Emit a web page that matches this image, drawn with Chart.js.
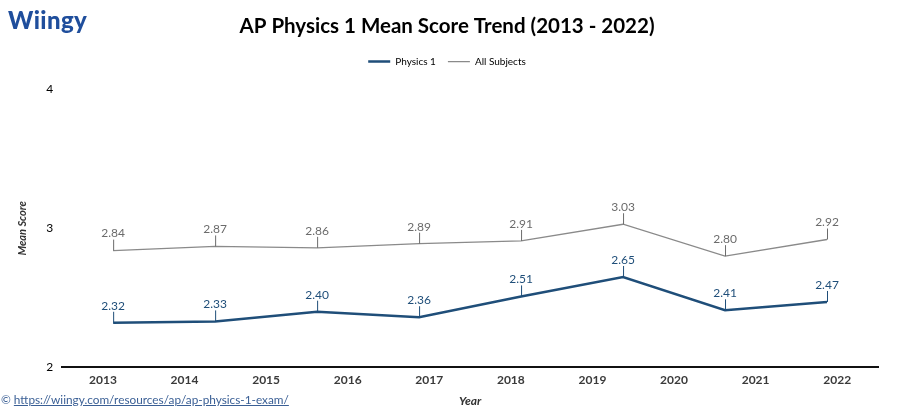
<!DOCTYPE html>
<html>
<head>
<meta charset="utf-8">
<script src="https://cdn.jsdelivr.net/npm/chart.js@4.4.1/dist/chart.umd.min.js"></script>
<style>
  html, body { margin:0; padding:0; background:#fff; }
  #wrap { position:relative; width:900px; height:409px; }
  #logo { position:absolute; left:8px; top:5px; font:900 24px 'Lato', sans-serif; color:#1f4e9c; letter-spacing:0.4px; }
  #src { position:absolute; left:1px; top:392px; font:11.8px 'Lato', sans-serif; color:#3a5f95; }
  #src a { color:#3a5f95; text-decoration:underline; }
</style>
</head>
<body>
<div id="wrap">
  <canvas id="chart" width="900" height="409"></canvas>
  <div id="logo">Wiingy</div>
  <div id="src">© <a href="#">https://wiingy.com/resources/ap/ap-physics-1-exam/</a></div>
</div>
<script>
// axis labels shown along the bottom
const axisYears = ['2013','2014','2015','2016','2017','2018','2019','2020','2021','2022'];
// one slot per reported score
const pointSlots = ['p1','p2','p3','p4','p5','p6','p7','p8'];
const physics1 = [2.32, 2.33, 2.40, 2.36, 2.51, 2.65, 2.41, 2.47];
const allSubjects = [2.84, 2.87, 2.86, 2.89, 2.91, 3.03, 2.80, 2.92];
const yTicks = [2, 3, 4];

const FONT = "'Lato', sans-serif";

// value labels with a small leader line above each point
const valueLabels = {
  id: 'valueLabels',
  afterDatasetsDraw(chart) {
    const ctx = chart.ctx;
    chart.data.datasets.forEach((ds, i) => {
      const meta = chart.getDatasetMeta(i);
      ctx.save();
      ctx.strokeStyle = ds.labelColor;
      ctx.fillStyle = ds.labelColor;
      ctx.lineWidth = 1;
      ctx.font = '12px ' + FONT;
      ctx.textAlign = 'center';
      ctx.textBaseline = 'bottom';
      meta.data.forEach((pt, j) => {
        ctx.beginPath();
        ctx.moveTo(pt.x + 0.5, pt.y);
        ctx.lineTo(pt.x + 0.5, pt.y - 11);
        ctx.stroke();
        ctx.fillText(ds.data[j].toFixed(2), pt.x, pt.y - 11);
      });
      ctx.restore();
    });
  }
};

// extra room between legend and plot
const legendGap = {
  id: 'legendGap',
  beforeInit(chart) {
    const fit = chart.legend.fit;
    chart.legend.fit = function() { fit.bind(chart.legend)(); this.height += 13; };
  }
};

new Chart(document.getElementById('chart'), {
  type: 'line',
  data: {
    labels: axisYears,
    datasets: [
      { label:'Physics 1', data: physics1, xAxisID:'x2', borderColor:'#1f4e79', backgroundColor:'#1f4e79', borderWidth:2.5, pointRadius:0, tension:0, labelColor:'#1f4e79' },
      { label:'All Subjects', data: allSubjects, xAxisID:'x2', borderColor:'#8a8a8a', backgroundColor:'#8a8a8a', borderWidth:1.3, pointRadius:0, tension:0, labelColor:'#6b6b6b' }
    ]
  },
  options: {
    responsive:false,
    animation:false,
    layout:{ padding:{ left:16, right:22, top:6, bottom:0 } },
    plugins:{
      title:{ display:true, text:'AP Physics 1 Mean Score Trend (2013 - 2022)', color:'#000', font:{ family:FONT, size:20.5, weight:'bold' }, padding:{ top:8, bottom:6 } },
      legend:{ labels:{ color:'#333', font:{ family:FONT, size:10 }, boxWidth:22, boxHeight:0, padding:12,
        generateLabels(chart) {
          return chart.data.datasets.map((ds, i) => ({ text:ds.label, strokeStyle:ds.borderColor, fillStyle:ds.borderColor, lineWidth:ds.borderWidth, datasetIndex:i, hidden:false }));
        } } },
      tooltip:{ enabled:false }
    },
    scales:{
      x:{ type:'category', labels:axisYears, offset:true,
        grid:{ display:false, drawTicks:false },
        border:{ display:true, color:'#111', width:2 },
        ticks:{ color:'#3a3a3a', font:{ family:FONT, size:12, weight:'bold' }, padding:6 },
        title:{ display:true, text:'Year', color:'#333', font:{ family:FONT, size:12, style:'italic', weight:'bold' }, padding:{ top:0, bottom:1 } } },
      x2:{ type:'category', labels:pointSlots, offset:true, display:false },
      y:{ min:2, max:4,
        afterBuildTicks(scale) { scale.ticks = yTicks.map(v => ({ value:v })); },
        grid:{ display:false, drawTicks:false },
        border:{ display:false },
        ticks:{ color:'#000', font:{ family:FONT, size:12 }, padding:9 },
        title:{ display:true, text:'Mean Score', color:'#333', font:{ family:FONT, size:11, style:'italic', weight:'bold' }, padding:{ top:0, bottom:8 } } }
    }
  },
  plugins:[valueLabels, legendGap]
});
</script>
</body>
</html>
